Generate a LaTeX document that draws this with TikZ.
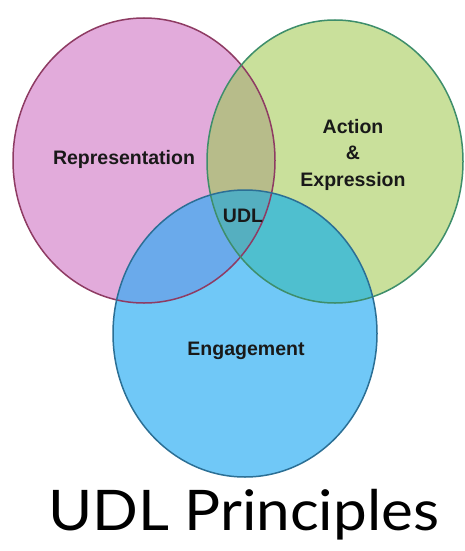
\documentclass[tikz,border=0pt]{standalone}
\usepackage{fontspec}
\setmainfont{Liberation Sans}
\newfontfamily\titlefont{Lato}
\definecolor{cP}{HTML}{E2ABDB}
\definecolor{cG}{HTML}{C9E09B}
\definecolor{cB}{HTML}{70C8F7}
\definecolor{cPG}{HTML}{B7BC8A}
\definecolor{cPB}{HTML}{6AAAEB}
\definecolor{cGB}{HTML}{4FBFCF}
\definecolor{cPGB}{HTML}{55AFC0}
\definecolor{eP}{HTML}{8E3B63}
\definecolor{eG}{HTML}{3E8E6B}
\definecolor{eB}{HTML}{2B6F95}
\begin{document}
\begin{tikzpicture}[x=1pt,y=-1pt,
  lbl/.style={font=\bfseries\fontsize{19.5}{22}\selectfont, text=black!90, inner sep=0pt, anchor=base},
  rim/.style={line width=1.5pt}]
\useasboundingbox (0,0) rectangle (465,551);
\fill[white] (0,0) rectangle (465,551);
\coordinate (pc) at (144,160.5);
\coordinate (gc) at (335,161.5);
\coordinate (bc) at (245,333.5);
% base fills
\fill[cP] (pc) ellipse [x radius=131, y radius=142.5];
\fill[cG] (gc) ellipse [x radius=128, y radius=141.5];
\fill[cB] (bc) ellipse [x radius=132, y radius=143.5];
% green & blue
\begin{scope}
  \clip (gc) ellipse [x radius=128, y radius=141.5];
  \fill[cGB] (bc) ellipse [x radius=132, y radius=143.5];
\end{scope}
% pink overlaps
\begin{scope}
  \clip (pc) ellipse [x radius=131, y radius=142.5];
  \fill[cPG] (gc) ellipse [x radius=128, y radius=141.5];
  \fill[cPB] (bc) ellipse [x radius=132, y radius=143.5];
  \clip (gc) ellipse [x radius=128, y radius=141.5];
  \fill[cPGB] (bc) ellipse [x radius=132, y radius=143.5];
\end{scope}
% outlines
\draw[rim, eP] (pc) ellipse [x radius=131, y radius=142.5];
\draw[rim, eG] (gc) ellipse [x radius=128, y radius=141.5];
\draw[rim, eB] (bc) ellipse [x radius=132, y radius=143.5];
% labels
\node[lbl] (rep) at (124,164) {Representation};
\node[lbl] (act) at (353,133) {Action};
\node[lbl] (amp) at (353,159) {\&};
\node[lbl] (exp) at (353,186) {Expression};
\node[lbl] (udl) at (243,222) {UDL};
\node[lbl] (eng) at (246,355) {Engagement};
\node[font=\titlefont\fontsize{56}{60}\selectfont, inner sep=0pt, anchor=base] (title) at (243.5,530) {\scalebox{1.075}[1]{UDL Principles}};
\end{tikzpicture}
\end{document}
